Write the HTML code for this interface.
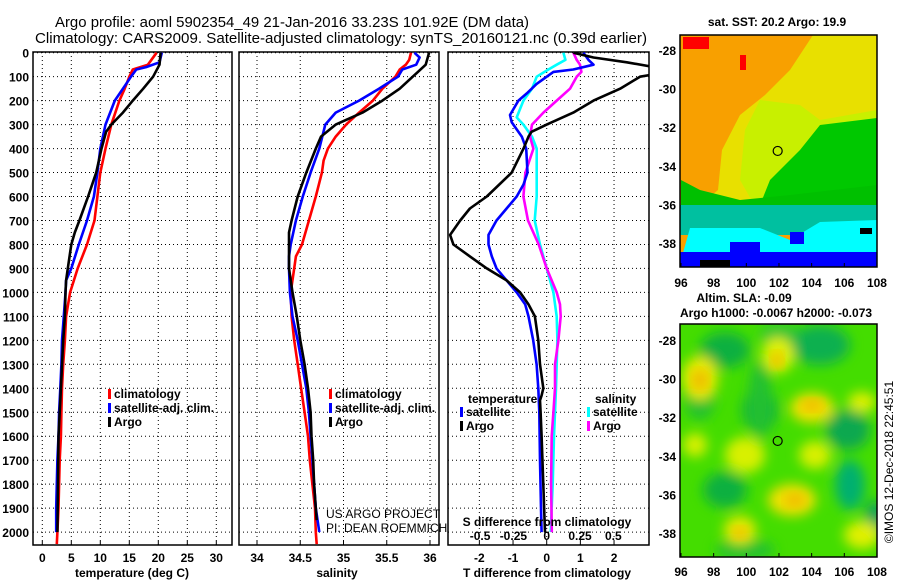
<!DOCTYPE html>
<html><head><meta charset="utf-8">
<style>
html,body{margin:0;padding:0;background:#fff;}
svg{display:block;font-family:"Liberation Sans",sans-serif;}
.tk{font-size:12px;font-weight:bold;fill:#000;}
.ttl{font-size:15px;fill:#000;}
.lg{font-size:12px;font-weight:bold;fill:#000;}
</style></head><body>
<svg id="chart" width="900" height="580" viewBox="0 0 900 580">
<defs>
<filter id="blur" x="-20%" y="-20%" width="140%" height="140%"><feGaussianBlur stdDeviation="6"/></filter>
<clipPath id="mapclip1"><rect x="680" y="35" width="197" height="232"/></clipPath>
<clipPath id="mapclip2"><rect x="680" y="324" width="197" height="233"/></clipPath>
<clipPath id="p3clip"><rect x="448" y="52" width="201" height="493"/></clipPath>
</defs>
<text class="ttl" x="55" y="27" textLength="474" lengthAdjust="spacingAndGlyphs">Argo profile: aoml 5902354_49 21-Jan-2016 33.23S 101.92E (DM data)</text>
<text class="ttl" x="35" y="43" textLength="612" lengthAdjust="spacingAndGlyphs">Climatology: CARS2009. Satellite-adjusted climatology: synTS_20160121.nc (0.39d earlier)</text>
<g id="g1"></g>
<g id="g2"></g>
<g id="g3"></g>
<g id="gm"></g>
</svg>
<script>
// depth grid (m)
const depthTicks=[0,100,200,300,400,500,600,700,800,900,1000,1100,1200,1300,1400,1500,1600,1700,1800,1900,2000];
// Temperature panel
const tempTicks=[0,5,10,15,20,25,30];
const tClimD=[0,50,70,100,150,200,300,400,500,600,700,800,900,1000,1100,1200,1300,1400,1500,1600,1700,1800,1900,2000,2050];
const tClimV=[19.7,18.2,15.6,15,14.2,13.3,11.9,10.9,10,9.5,9,7.7,6.1,4.8,4.1,3.9,3.6,3.4,3.3,3.2,3.0,2.9,2.8,2.6,2.5];
const tSatD=[0,40,60,70,100,150,200,300,400,500,600,700,800,900,950,1000,1100,1200,1300,1400,1500,1600,1700,1800,1900,2000];
const tSatV=[20.6,20.2,17.9,16.2,15.3,13.9,12.5,10.9,10,9.5,8.9,7.7,6.3,5,4.1,4,3.7,3.4,3.3,3.1,2.9,2.8,2.6,2.5,2.4,2.4];
const tArgD=[0,50,100,150,200,250,300,330,400,500,600,700,750,800,900,950,1000,1100,1200,1400,1600,1800,2000];
const tArgV=[20.4,20.2,19.1,17.4,15.6,13.9,11.9,11,10.2,9.3,7.9,6.4,5.6,5,4.4,4.1,4,3.9,3.6,3.2,2.8,2.7,2.6];
// Salinity panel
const salTicks=[34,34.5,35,35.5,36];
const sClimD=[0,30,50,70,100,150,200,250,300,350,400,450,500,600,700,800,850,900,1000,1100,1200,1300,1400,1500,1600,1700,1800,1900,2000,2050];
const sClimV=[35.78,35.76,35.72,35.65,35.6,35.45,35.34,35.18,35.03,34.91,34.82,34.77,34.75,34.68,34.6,34.52,34.45,34.43,34.39,34.4,34.43,34.47,34.51,34.55,34.59,34.61,34.64,34.67,34.68,34.69];
const sSatD=[0,20,50,70,100,150,200,250,300,400,500,600,700,800,850,900,1000,1100,1200,1300,1400,1500,1600,1700,1800,1900,2000];
const sSatV=[35.82,35.88,35.84,35.68,35.63,35.41,35.18,34.91,34.79,34.72,34.62,34.53,34.45,34.39,34.37,34.37,34.38,34.41,34.47,34.52,34.57,34.6,34.62,34.64,34.66,34.68,34.72];
const sArgD=[0,50,80,100,150,200,250,300,350,400,500,600,700,750,800,900,1000,1100,1200,1300,1400,1500,1600,1700,1800,1900,1950];
const sArgV=[35.99,35.95,35.86,35.8,35.65,35.45,35.22,34.91,34.74,34.68,34.57,34.47,34.4,34.37,34.37,34.37,34.41,34.46,34.5,34.55,34.59,34.62,34.63,34.65,34.66,34.68,34.69];
// Difference panel
const dtTicks=[-2,-1,0,1,2];
const dsTicks=[-0.5,-0.25,0,0.25,0.5];
const dsLabels=["-0.5","-0.25","0","0.25","0.5"];
const dTSatD=[0,30,50,70,80,100,130,170,200,260,290,320,350,400,500,550,600,650,700,760,800,850,900,950,1000,1050,1100,1200,1300,1400,1500,1700,1900,2000];
const dTSatV=[1.09,1.24,1.39,0.79,0.2,0,-0.3,-0.59,-0.84,-1.09,-1.04,-0.89,-0.74,-0.61,-0.57,-0.69,-0.89,-1.19,-1.49,-1.73,-1.73,-1.63,-1.49,-1.19,-0.89,-0.64,-0.54,-0.4,-0.3,-0.25,-0.22,-0.2,-0.17,-0.15];
const dTArgD=[0,20,40,60,90,100,150,200,250,300,330,350,400,500,600,650,700,760,800,850,900,950,1000,1050,1100,1200,1300,1400,1430,1450,1500,1600,1800,2000];
const dTArgV=[0.79,1.39,2.38,3.2,3.2,2.77,2.18,1.39,0.79,0,-0.45,-0.54,-0.69,-1.04,-1.78,-2.28,-2.57,-2.87,-2.77,-2.28,-1.78,-1.19,-0.79,-0.54,-0.35,-0.25,-0.2,-0.1,-0.15,-0.2,-0.18,-0.15,-0.1,-0.05];
const dSSatD=[0,30,50,70,100,150,200,270,300,350,400,500,600,700,800,900,1000,1100,1200,1300,1400,1500,1600,1800,2000];
const dSSatV=[0.125,0.14,0.075,0.0125,-0.075,-0.11,-0.175,-0.225,-0.175,-0.11,-0.075,-0.075,-0.075,-0.09,-0.05,0,0.05,0.075,0.08,0.075,0.07,0.0625,0.055,0.045,0.03];
const dSArgD=[0,30,50,80,100,150,200,250,300,350,400,500,600,700,800,900,1000,1050,1100,1200,1300,1400,1500,1600,1800,2000];
const dSArgV=[0.2,0.225,0.25,0.26,0.225,0.175,0.075,-0.025,-0.11,-0.125,-0.1,-0.16,-0.175,-0.14,-0.06,0,0.075,0.1,0.105,0.0875,0.0625,0.0625,0.05,0.0375,0.033,0.038];
// map axes
const lonTicks=[96,98,100,102,104,106,108];
const latTicks=[-28,-30,-32,-34,-36,-38];
const floatLon=101.92, floatLat=-33.23;

const NS="http://www.w3.org/2000/svg";
function mk(tag,attrs,parent){const e=document.createElementNS(NS,tag);for(const k in attrs)e.setAttribute(k,attrs[k]);parent.appendChild(e);return e;}
const Y0=52.7, YS=0.2397;
function yD(d){return Y0+d*YS;}
const PT=52, PB=545;
function xT(v){return 42.3+v*5.8;}
function xS(v){return 257+(v-34)*86.5;}
function xDT(v){return 546.7+v*33.67;}
function xDS(v){return 546.7+v*133.3;}

function frame(g,x0,x1){
  const r=mk('rect',{x:x0,y:PT,width:x1-x0,height:PB-PT,fill:'none',stroke:'#000','stroke-width':1.5},g);
  
  
  depthTicks.forEach(d=>{
    const l=mk('line',{x1:x0,x2:x1,y1:yD(d),y2:yD(d),stroke:'#000','stroke-width':1,'stroke-dasharray':'1,3'},g);
    
    
  });
}
function vgrid(g,ticks,fx,labels,ly,name){
  ticks.forEach((t,i)=>{
    const x=fx(t);
    const l=mk('line',{x1:x,x2:x,y1:PT,y2:PB,stroke:'#000','stroke-width':1,'stroke-dasharray':'1,3'},g);
    
    
    const tk=mk('line',{x1:x,x2:x,y1:PB-4,y2:PB,stroke:'#000'},g);
    
    
    const tx=mk('text',{x:x,y:ly,'text-anchor':'middle',class:'tk'},g);
    tx.textContent=labels?labels[i]:String(t);
    
    
  });
}
function line(g,ds,vs,fx,color,name){
  const pts=ds.map((d,i)=>fx(vs[i]).toFixed(1)+','+yD(d).toFixed(1)).join(' ');
  const p=mk('polyline',{points:pts,fill:'none',stroke:color,'stroke-width':2.6,'stroke-linejoin':'round'},g);
  
  
}
function text(g,x,y,s,cls,name,anchor){
  const t=mk('text',{x:x,y:y,class:cls,'text-anchor':anchor||'start'},g);
  t.textContent=s;
  
  
  return t;
}
function legend(g,x,y,color,label,name){
  const r=mk('rect',{x:x,y:y-9,width:3,height:10,fill:color},g);
  
  
  text(g,x+6,y,label,'lg',name+'-label');
}

// Panel 1
const g1=document.getElementById('g1');
frame(g1,33,232);
vgrid(g1,tempTicks,xT,null,562,'temperature-x');
depthTicks.forEach(d=>{
  text(g1,29,yD(d)+5,String(d),'tk','depth-tick-label','end');
});
line(g1,tClimD,tClimV,xT,'#ff0000','climatology-temperature-line');
line(g1,tSatD,tSatV,xT,'#0000ff','satellite-adj-temperature-line');
line(g1,tArgD,tArgV,xT,'#000000','argo-temperature-line');
legend(g1,108,398,'#ff0000','climatology','legend-climatology');
legend(g1,108,412,'#0000ff','satellite-adj. clim.','legend-satellite-adj');
legend(g1,108,426,'#000000','Argo','legend-argo');
text(g1,132,577,'temperature (deg C)','tk','temperature-axis-title','middle');

// Panel 2
const g2=document.getElementById('g2');
frame(g2,239,439);
vgrid(g2,salTicks,xS,null,562,'salinity-x');
line(g2,sClimD,sClimV,xS,'#ff0000','climatology-salinity-line');
line(g2,sSatD,sSatV,xS,'#0000ff','satellite-adj-salinity-line');
line(g2,sArgD,sArgV,xS,'#000000','argo-salinity-line');
legend(g2,329,398,'#ff0000','climatology','legend-climatology');
legend(g2,329,412,'#0000ff','satellite-adj. clim.','legend-satellite-adj');
legend(g2,329,426,'#000000','Argo','legend-argo');
text(g2,326,518,'US ARGO PROJECT','lg','project-credit').setAttribute('style','font-weight:normal');
text(g2,326,532,'PI: DEAN ROEMMICH','lg','pi-credit').setAttribute('style','font-weight:normal');
text(g2,337,577,'salinity','tk','salinity-axis-title','middle');

// Panel 3
const g3=document.getElementById('g3');
frame(g3,448,649);
vgrid(g3,dtTicks,xDT,null,562,'t-diff-x');
const g3c=mk('g',{'clip-path':'url(#p3clip)'},g3);
line(g3c,dSSatD,dSSatV,xDS,'#00ffff','satellite-salinity-diff-line');
line(g3c,dSArgD,dSArgV,xDS,'#ff00ff','argo-salinity-diff-line');
line(g3c,dTSatD,dTSatV,xDT,'#0000ff','satellite-temperature-diff-line');
line(g3c,dTArgD,dTArgV,xDT,'#000000','argo-temperature-diff-line');
dsTicks.forEach((t,i)=>{text(g3,xDS(t),540,dsLabels[i],'lg','s-diff-tick-label','middle');});
text(g3,547,526,'S difference from climatology','lg','s-diff-axis-title','middle');
text(g3,547,577,'T difference from climatology','tk','t-diff-axis-title','middle');
text(g3,468,403,'temperature','lg','legend-temperature-heading');
legend(g3,460,416,'#0000ff','satellite','legend-t-satellite');
legend(g3,460,430,'#000000','Argo','legend-t-argo');
text(g3,595,403,'salinity','lg','legend-salinity-heading');
legend(g3,587,416,'#00ffff','satellite','legend-s-satellite');
legend(g3,587,430,'#ff00ff','Argo','legend-s-argo');

// Maps
const gm=document.getElementById('gm');
function xLon(v){return 681+(v-96)*16.33;}
function yLat1(v){return 50+(-28-v)*19.3;}
function yLat2(v){return 340+(-28-v)*19.3;}
// top map imagery
const m1=mk('g',{'clip-path':'url(#mapclip1)'},gm);


mk('rect',{x:680,y:35,width:197,height:232,fill:'#f8a000'},m1);
mk('polygon',{points:'813,35 877,35 877,215 681,215 700,205 718,190 722,150 740,115 765,95 790,70',fill:'#e8e000'},m1);
mk('polygon',{points:'760,100 800,105 820,120 877,110 877,215 760,215 740,180 745,130',fill:'#c8f000'},m1);
mk('polygon',{points:'820,125 877,118 877,200 760,205 770,180 800,150',fill:'#00c800'},m1);
mk('polygon',{points:'681,180 700,190 740,200 790,195 877,185 877,225 681,225',fill:'#00c000'},m1);
mk('rect',{x:680,y:205,width:197,height:30,fill:'#00c0a0'},m1);
mk('polygon',{points:'690,228 760,228 790,240 820,222 877,220 877,260 681,260',fill:'#00ffff'},m1);
mk('rect',{x:680,y:252,width:197,height:15,fill:'#0000ff'},m1);
mk('rect',{x:730,y:242,width:30,height:12,fill:'#0000ff'},m1);
mk('rect',{x:790,y:232,width:14,height:12,fill:'#0000ff'},m1);
mk('rect',{x:683,y:37,width:26,height:12,fill:'#ff0000'},m1);
mk('rect',{x:740,y:55,width:6,height:15,fill:'#ff0000'},m1);
mk('rect',{x:700,y:260,width:30,height:7,fill:'#000'},m1);
mk('rect',{x:860,y:228,width:12,height:6,fill:'#000'},m1);
const fr1=mk('rect',{x:680,y:35,width:197,height:232,fill:'none',stroke:'#000','stroke-width':1.5},gm);


// bottom map imagery
const m2=mk('g',{'clip-path':'url(#mapclip2)'},gm);


mk('rect',{x:680,y:324,width:197,height:233,fill:'#44dd00'},m2);
const bf=mk('g',{filter:'url(#blur)'},m2);
[[725,350,25,18,'#10b040'],[820,345,30,20,'#10b050'],[780,335,20,10,'#20c040'],[760,410,18,22,'#10b040'],[848,430,22,20,'#10a850'],[850,485,15,25,'#00b070'],[725,490,22,18,'#10b040'],[760,400,12,40,'#20c030'],[875,520,10,20,'#10a060'],[700,400,15,20,'#20c030'],[745,550,30,10,'#20c030'],
 [700,378,18,22,'#e8e800'],[778,355,16,18,'#e0f000'],[812,408,22,15,'#f0e000'],[862,402,14,10,'#e0f000'],[815,455,16,14,'#d8f000'],[792,500,24,16,'#f0e000'],[740,530,16,14,'#e8e800'],[862,535,18,14,'#e0f000'],[695,445,12,12,'#d8f000'],[745,455,20,18,'#d8f000']
].forEach(b=>mk('ellipse',{cx:b[0],cy:b[1],rx:b[2],ry:b[3],fill:b[4]},bf));
[[700,380,8,10],[812,405,10,6],[795,500,10,7],[740,533,7,6],[777,360,6,8]].forEach(b=>mk('ellipse',{cx:b[0],cy:b[1],rx:b[2],ry:b[3],fill:'#f0b800',filter:'url(#blur)'},m2));
const fr2=mk('rect',{x:680,y:324,width:197,height:233,fill:'none',stroke:'#000','stroke-width':1.5},gm);


// axes for maps
lonTicks.forEach(v=>{
  text(gm,xLon(v),287,String(v),'tk','sst-map-lon-label','middle');
  text(gm,xLon(v),576,String(v),'tk','sla-map-lon-label','middle');
  mk('line',{x1:xLon(v),x2:xLon(v),y1:263,y2:267,stroke:'#000'},gm);
  mk('line',{x1:xLon(v),x2:xLon(v),y1:553,y2:557,stroke:'#000'},gm);
});
latTicks.forEach(v=>{
  text(gm,676,yLat1(v)+5,String(v),'tk','sst-map-lat-label','end');
  text(gm,676,yLat2(v)+5,String(v),'tk','sla-map-lat-label','end');
});
// float position markers
const c1=mk('circle',{cx:xLon(floatLon),cy:yLat1(floatLat),r:4.5,fill:'none',stroke:'#000','stroke-width':1.2},gm);


const c2=mk('circle',{cx:xLon(floatLon),cy:yLat2(floatLat),r:4.5,fill:'none',stroke:'#000','stroke-width':1.2},gm);


text(gm,777,26,'sat. SST: 20.2 Argo: 19.9','tk','sst-map-title','middle');
text(gm,744,302,'Altim. SLA: -0.09','tk','sla-map-title','middle');
text(gm,776,317,'Argo h1000: -0.0067 h2000: -0.073','tk','argo-height-title','middle');
const cr=text(gm,0,0,'©IMOS 12-Dec-2018 22:45:51','lg','imos-credit','middle');
cr.setAttribute('style','font-weight:normal');
cr.setAttribute('transform','translate(893,462) rotate(-90)');
</script>
</body></html>
